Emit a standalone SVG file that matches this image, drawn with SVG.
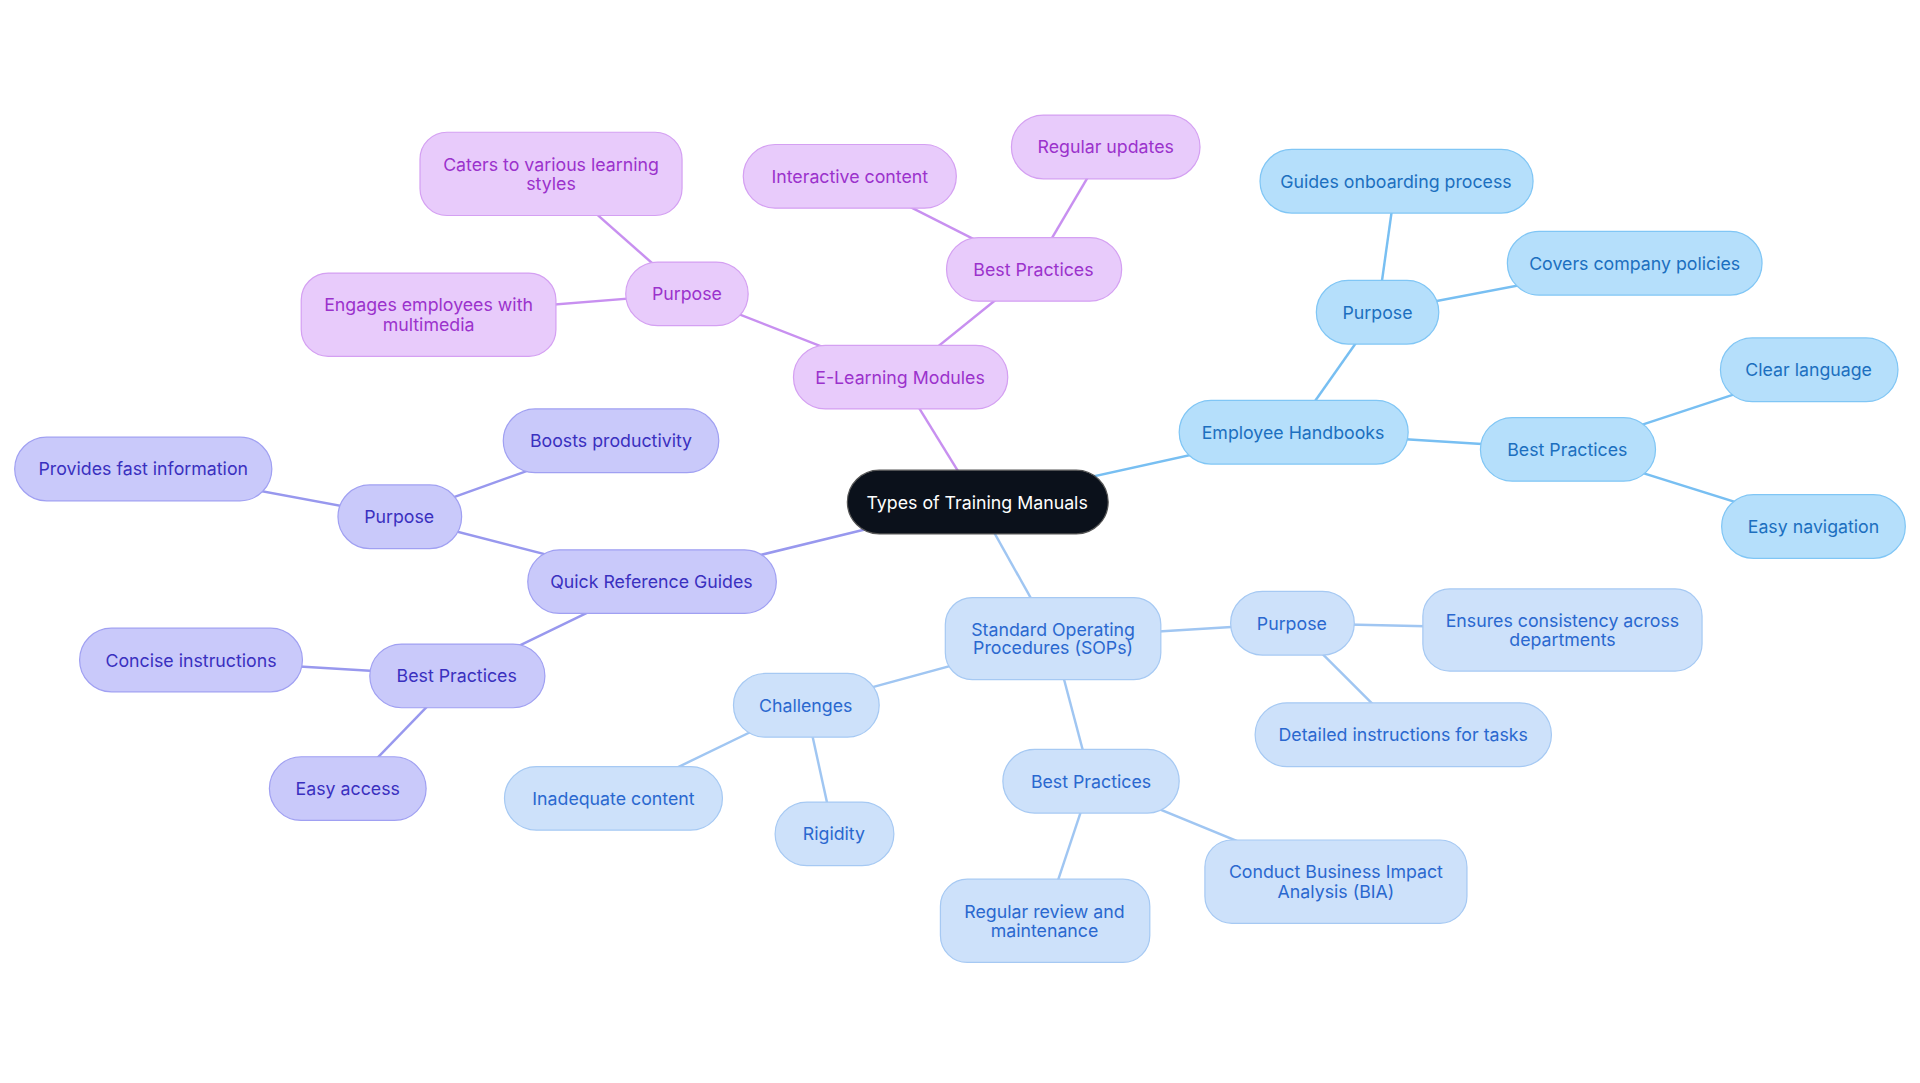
<svg xmlns="http://www.w3.org/2000/svg" width="1920" height="1083" viewBox="0 0 1920 1083">
<style>
text{font-family:Inter,"Noto Sans",sans-serif;font-size:14.5px;text-anchor:middle;dominant-baseline:central}
.e rect{fill:#e8cbfb;stroke:#d4a0f2;stroke-width:1}.e text{fill:#9b32cc}
.h rect{fill:#b5dffb;stroke:#80c6f5;stroke-width:1}.h text{fill:#1c6fbf}
.q rect{fill:#c9c9fa;stroke:#a0a0f2;stroke-width:1}.q text{fill:#3a30bf}
.s rect{fill:#cde1fa;stroke:#a6c9f3;stroke-width:1}.s text{fill:#2a68cf}
.c rect{fill:#0b111b;stroke:#555;stroke-width:1}.c text{fill:#fff}
#edges line{stroke-width:2}
.le{stroke:#c890f0}.lh{stroke:#78bff2}.lq{stroke:#9898ee}.ls{stroke:#a0c6f2}
</style>
<rect width="1920" height="1083" fill="#fff"/>
<g transform="scale(1.2245)">
<g id="edges">
<line class="le" x1="798" y1="410" x2="735" y2="308"/>
<line class="le" x1="735" y1="308" x2="561" y2="240"/>
<line class="le" x1="561" y1="240" x2="450" y2="142"/>
<line class="le" x1="561" y1="240" x2="350" y2="257"/>
<line class="le" x1="735" y1="308" x2="844" y2="220"/>
<line class="le" x1="844" y1="220" x2="694" y2="144"/>
<line class="le" x1="844" y1="220" x2="903" y2="120"/>
<line class="lh" x1="798" y1="410" x2="1056" y2="353"/>
<line class="lh" x1="1056" y1="353" x2="1125" y2="255"/>
<line class="lh" x1="1125" y1="255" x2="1140" y2="148"/>
<line class="lh" x1="1125" y1="255" x2="1335" y2="215"/>
<line class="lh" x1="1056" y1="353" x2="1280" y2="367"/>
<line class="lh" x1="1280" y1="367" x2="1477" y2="302"/>
<line class="lh" x1="1280" y1="367" x2="1481" y2="430"/>
<line class="lq" x1="798" y1="410" x2="532" y2="475"/>
<line class="lq" x1="532" y1="475" x2="326" y2="422"/>
<line class="lq" x1="326" y1="422" x2="499" y2="360"/>
<line class="lq" x1="326" y1="422" x2="117" y2="383"/>
<line class="lq" x1="532" y1="475" x2="373" y2="552"/>
<line class="lq" x1="373" y1="552" x2="156" y2="539"/>
<line class="lq" x1="373" y1="552" x2="284" y2="644"/>
<line class="ls" x1="798" y1="410" x2="860" y2="521"/>
<line class="ls" x1="860" y1="521" x2="1055" y2="509"/>
<line class="ls" x1="1055" y1="509" x2="1276" y2="514"/>
<line class="ls" x1="1055" y1="509" x2="1146" y2="600"/>
<line class="ls" x1="860" y1="521" x2="658" y2="576"/>
<line class="ls" x1="658" y1="576" x2="501" y2="652"/>
<line class="ls" x1="658" y1="576" x2="681" y2="681"/>
<line class="ls" x1="860" y1="521" x2="891" y2="638"/>
<line class="ls" x1="891" y1="638" x2="853" y2="752"/>
<line class="ls" x1="891" y1="638" x2="1091" y2="720"/>
</g>
<g id="center" class="c"><rect x="692" y="384" width="213" height="52" rx="26"/><text x="798" y="410">Types of Training Manuals</text></g>
<g id="elm" class="e"><rect x="648" y="282" width="175" height="52" rx="26"/><text x="735" y="308">E-Learning Modules</text></g>
<g id="elm-purpose" class="e"><rect x="511" y="214" width="100" height="52" rx="26"/><text x="561" y="240">Purpose</text></g>
<g id="elm-caters" class="e"><rect x="343" y="108" width="214" height="68" rx="22"/><text x="450" y="134">Caters to various learning</text><text x="450" y="150">styles</text></g>
<g id="elm-engages" class="e"><rect x="246" y="223" width="208" height="68" rx="22"/><text x="350" y="249">Engages employees with</text><text x="350" y="265">multimedia</text></g>
<g id="elm-bp" class="e"><rect x="773" y="194" width="143" height="52" rx="26"/><text x="844" y="220">Best Practices</text></g>
<g id="elm-interactive" class="e"><rect x="607" y="118" width="174" height="52" rx="26"/><text x="694" y="144">Interactive content</text></g>
<g id="elm-updates" class="e"><rect x="826" y="94" width="154" height="52" rx="26"/><text x="903" y="120">Regular updates</text></g>
<g id="eh" class="h"><rect x="963" y="327" width="187" height="52" rx="26"/><text x="1056" y="353">Employee Handbooks</text></g>
<g id="eh-purpose" class="h"><rect x="1075" y="229" width="100" height="52" rx="26"/><text x="1125" y="255">Purpose</text></g>
<g id="eh-guides" class="h"><rect x="1029" y="122" width="223" height="52" rx="26"/><text x="1140" y="148">Guides onboarding process</text></g>
<g id="eh-covers" class="h"><rect x="1231" y="189" width="208" height="52" rx="26"/><text x="1335" y="215">Covers company policies</text></g>
<g id="eh-bp" class="h"><rect x="1209" y="341" width="143" height="52" rx="26"/><text x="1280" y="367">Best Practices</text></g>
<g id="eh-clear" class="h"><rect x="1405" y="276" width="145" height="52" rx="26"/><text x="1477" y="302">Clear language</text></g>
<g id="eh-nav" class="h"><rect x="1406" y="404" width="150" height="52" rx="26"/><text x="1481" y="430">Easy navigation</text></g>
<g id="qrg" class="q"><rect x="431" y="449" width="203" height="52" rx="26"/><text x="532" y="475">Quick Reference Guides</text></g>
<g id="qrg-purpose" class="q"><rect x="276" y="396" width="101" height="52" rx="26"/><text x="326" y="422">Purpose</text></g>
<g id="qrg-boosts" class="q"><rect x="411" y="334" width="176" height="52" rx="26"/><text x="499" y="360">Boosts productivity</text></g>
<g id="qrg-fast" class="q"><rect x="12" y="357" width="210" height="52" rx="26"/><text x="117" y="383">Provides fast information</text></g>
<g id="qrg-bp" class="q"><rect x="302" y="526" width="143" height="52" rx="26"/><text x="373" y="552">Best Practices</text></g>
<g id="qrg-concise" class="q"><rect x="65" y="513" width="182" height="52" rx="26"/><text x="156" y="539">Concise instructions</text></g>
<g id="qrg-access" class="q"><rect x="220" y="618" width="128" height="52" rx="26"/><text x="284" y="644">Easy access</text></g>
<g id="sop" class="s"><rect x="772" y="488" width="176" height="67" rx="22"/><text x="860" y="514">Standard Operating</text><text x="860" y="529">Procedures (SOPs)</text></g>
<g id="sop-purpose" class="s"><rect x="1005" y="483" width="101" height="52" rx="26"/><text x="1055" y="509">Purpose</text></g>
<g id="sop-ensures" class="s"><rect x="1162" y="481" width="228" height="67" rx="22"/><text x="1276" y="507">Ensures consistency across</text><text x="1276" y="522">departments</text></g>
<g id="sop-detailed" class="s"><rect x="1025" y="574" width="242" height="52" rx="26"/><text x="1146" y="600">Detailed instructions for tasks</text></g>
<g id="sop-challenges" class="s"><rect x="599" y="550" width="119" height="52" rx="26"/><text x="658" y="576">Challenges</text></g>
<g id="sop-inadequate" class="s"><rect x="412" y="626" width="178" height="52" rx="26"/><text x="501" y="652">Inadequate content</text></g>
<g id="sop-rigidity" class="s"><rect x="633" y="655" width="97" height="52" rx="26"/><text x="681" y="681">Rigidity</text></g>
<g id="sop-bp" class="s"><rect x="819" y="612" width="144" height="52" rx="26"/><text x="891" y="638">Best Practices</text></g>
<g id="sop-review" class="s"><rect x="768" y="718" width="171" height="68" rx="22"/><text x="853" y="744">Regular review and</text><text x="853" y="760">maintenance</text></g>
<g id="sop-bia" class="s"><rect x="984" y="686" width="214" height="68" rx="22"/><text x="1091" y="712">Conduct Business Impact</text><text x="1091" y="728">Analysis (BIA)</text></g>
</g>
</svg>
